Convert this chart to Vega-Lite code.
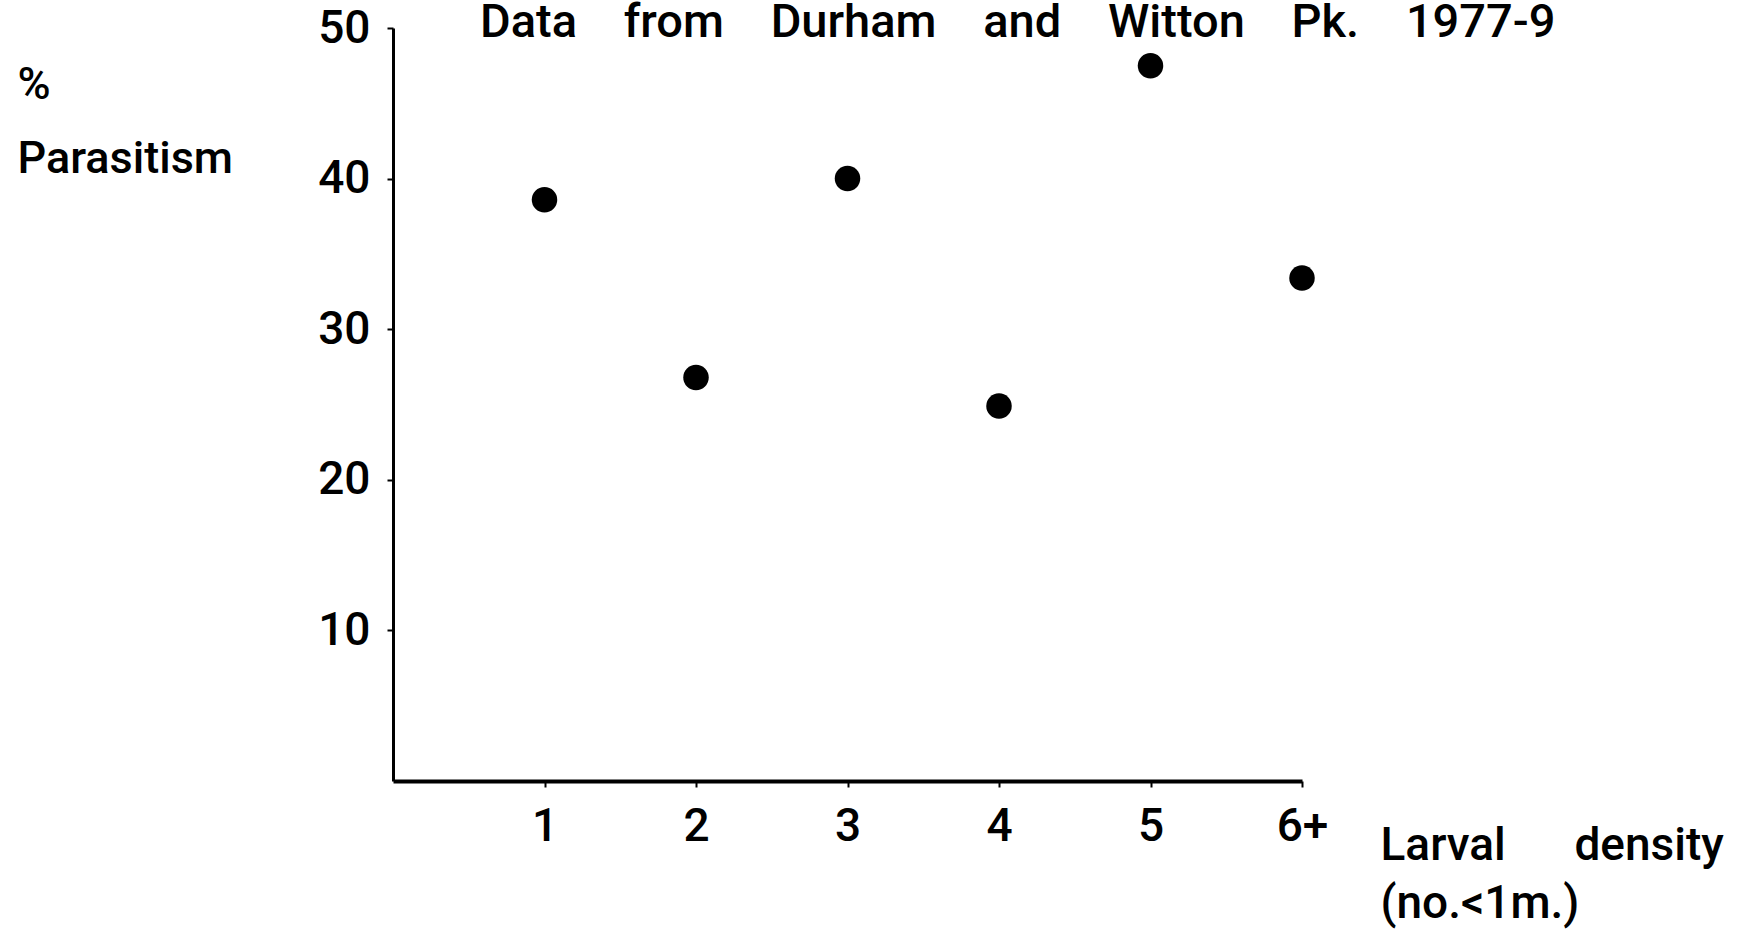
{
  "$schema": "https://vega.github.io/schema/vega-lite/v6.json",
  "autosize": {"type": "none"},
  "padding": {"left": 393, "top": 28, "right": 457, "bottom": 151},
  "width": 909,
  "height": 753,
  "background": "white",
  "title": {
    "text": "Data\u00a0\u00a0\u00a0\u00a0from\u00a0\u00a0\u00a0\u00a0Durham\u00a0\u00a0\u00a0\u00a0and\u00a0\u00a0\u00a0\u00a0Witton\u00a0\u00a0\u00a0\u00a0Pk.\u00a0\u00a0\u00a0\u00a01977-9",
    "anchor": "start",
    "dx": 463,
    "offset": -79,
    "baseline": "alphabetic",
    "font": "Roboto",
    "fontSize": 47,
    "fontWeight": 500,
    "color": "black"
  },
  "data": {
    "values": [
      {"density": 1, "parasitism": 38.6},
      {"density": 2, "parasitism": 26.8},
      {"density": 3, "parasitism": 40.0},
      {"density": 4, "parasitism": 24.9},
      {"density": 5, "parasitism": 47.5},
      {"density": 6, "parasitism": 33.4}
    ]
  },
  "mark": {"type": "circle", "size": 650, "color": "black", "opacity": 1},
  "encoding": {
    "x": {
      "field": "density",
      "type": "quantitative",
      "scale": {"domain": [0, 6], "nice": false},
      "axis": {
        "values": [1, 2, 3, 4, 5, 6],
        "labelExpr": "datum.value == 6 ? '6+' : datum.label",
        "grid": false,
        "domainColor": "black",
        "domainWidth": 4,
        "tickColor": "black",
        "tickWidth": 2,
        "tickSize": 6,
        "labelFont": "Roboto",
        "labelFontSize": 46,
        "labelFontWeight": 500,
        "labelColor": "black",
        "labelBaseline": "alphabetic",
        "labelPadding": 53,
        "labelFlush": false,
        "title": ["Larval\u00a0\u00a0\u00a0\u00a0\u00a0\u00a0density", "(no.<1m.)"],
        "titleFont": "Roboto",
        "titleFontSize": 46,
        "titleFontWeight": 500,
        "titleColor": "black",
        "titleAlign": "left",
        "titleBaseline": "alphabetic",
        "titleAnchor": "start",
        "titleX": 987,
        "titleY": 78,
        "titleLineHeight": 58
      }
    },
    "y": {
      "field": "parasitism",
      "type": "quantitative",
      "scale": {"domain": [0, 50], "nice": false},
      "axis": {
        "values": [10, 20, 30, 40, 50],
        "grid": false,
        "domainColor": "black",
        "domainWidth": 3,
        "tickColor": "black",
        "tickWidth": 2,
        "tickSize": 6,
        "labelFont": "Roboto",
        "labelFontSize": 46,
        "labelFontWeight": 500,
        "labelColor": "black",
        "labelPadding": 17,
        "labelFlush": false,
        "title": ["%", "Parasitism"],
        "titleFont": "Roboto",
        "titleFontSize": 45,
        "titleFontWeight": 500,
        "titleColor": "black",
        "titleAngle": 0,
        "titleAlign": "left",
        "titleBaseline": "alphabetic",
        "titleAnchor": "start",
        "titleX": -376,
        "titleY": 70,
        "titleLineHeight": 74
      }
    }
  },
  "config": {"view": {"stroke": null}}
}
